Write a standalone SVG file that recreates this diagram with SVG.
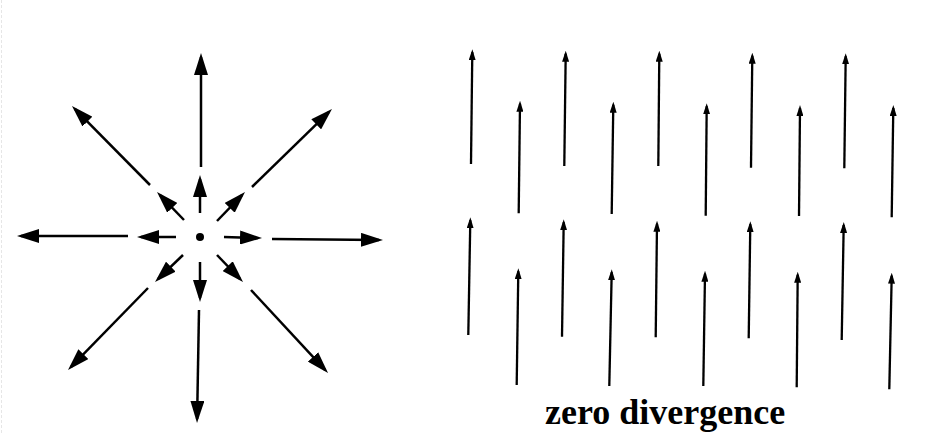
<svg xmlns="http://www.w3.org/2000/svg" width="947" height="433" viewBox="0 0 947 433">
<style>
.big{stroke:#000;stroke-width:2.5;fill:none;marker-end:url(#bigHead)}
.small{stroke:#000;stroke-width:2.3;fill:none;marker-end:url(#smallHead)}
.label{font-family:"Liberation Serif","Times New Roman",serif;font-weight:bold;font-size:36px;fill:#000}
</style>
<defs>
<marker id="bigHead" viewBox="0 0 22 14" refX="18" refY="7" markerWidth="22" markerHeight="14" markerUnits="userSpaceOnUse" orient="auto">
<path d="M0,0 L22,7 L0,14 Z" fill="#000"/>
</marker>
<marker id="smallHead" viewBox="0 0 11 7" refX="8" refY="3.5" markerWidth="11" markerHeight="7" markerUnits="userSpaceOnUse" orient="auto">
<path d="M0,0 L11,3.5 L0,7 Z" fill="#000"/>
</marker>
</defs>
<rect width="947" height="433" fill="#fff"/>
<line x1="1.5" y1="0" x2="1.5" y2="433" stroke="#e6e6e6" stroke-width="1" stroke-dasharray="3 2"/>
<g id="source">
<circle id="source-dot" cx="200" cy="237" r="4" fill="#000"/>
<g id="source-arrows">
<line class="big" x1="201" y1="167" x2="201" y2="57"/>
<line class="big" x1="200" y1="213" x2="200" y2="179"/>
<line class="big" x1="200" y1="262" x2="200" y2="298"/>
<line class="big" x1="199" y1="310" x2="197.1" y2="419"/>
<line class="big" x1="176" y1="237" x2="141" y2="237"/>
<line class="big" x1="128" y1="236" x2="21" y2="236"/>
<line class="big" x1="224" y1="237" x2="258" y2="238"/>
<line class="big" x1="272" y1="239" x2="379" y2="240"/>
<line class="big" x1="184" y1="220" x2="159.8" y2="194.9"/>
<line class="big" x1="150" y1="185" x2="74.8" y2="108.8"/>
<line class="big" x1="217" y1="221" x2="242.2" y2="194.9"/>
<line class="big" x1="252" y1="187" x2="329.1" y2="111.8"/>
<line class="big" x1="183" y1="255" x2="157.9" y2="279.2"/>
<line class="big" x1="148" y1="288" x2="70.8" y2="367.1"/>
<line class="big" x1="217" y1="255" x2="240.2" y2="279.1"/>
<line class="big" x1="251" y1="290" x2="325.3" y2="370.1"/>
</g>
</g>
<g id="uniform-field">
<g id="row-a">
<line class="small" x1="471" y1="164" x2="472.3" y2="52.3"/>
<line class="small" x1="564.3" y1="166" x2="565.7" y2="53.7"/>
<line class="small" x1="658.3" y1="166" x2="659.3" y2="53.7"/>
<line class="small" x1="751" y1="167.7" x2="752.3" y2="55.7"/>
<line class="small" x1="844.3" y1="168.3" x2="845.7" y2="56.3"/>
</g>
<g id="row-b">
<line class="small" x1="518.7" y1="213.3" x2="520" y2="103.7"/>
<line class="small" x1="611.7" y1="214" x2="613.3" y2="104.7"/>
<line class="small" x1="705.7" y1="215.7" x2="706.7" y2="106.3"/>
<line class="small" x1="799" y1="216" x2="800" y2="108"/>
<line class="small" x1="891.7" y1="217.3" x2="893.3" y2="108"/>
</g>
<g id="row-c">
<line class="small" x1="468.3" y1="335" x2="470.3" y2="220.3"/>
<line class="small" x1="562" y1="336.7" x2="563.7" y2="222.3"/>
<line class="small" x1="655.7" y1="337.3" x2="657" y2="223.7"/>
<line class="small" x1="748.7" y1="338.3" x2="750.3" y2="224.3"/>
<line class="small" x1="841.7" y1="340" x2="843.7" y2="225"/>
</g>
<g id="row-d">
<line class="small" x1="516.7" y1="385" x2="518.3" y2="271.3"/>
<line class="small" x1="609.3" y1="386" x2="611.7" y2="272.3"/>
<line class="small" x1="703.3" y1="386" x2="705" y2="273.7"/>
<line class="small" x1="796.7" y1="387.3" x2="797.7" y2="274.7"/>
<line class="small" x1="889.3" y1="389.3" x2="891.7" y2="275.7"/>
</g>
</g>
<g id="caption">
<text class="label" x="545" y="424">zero divergence</text>
</g>
</svg>
